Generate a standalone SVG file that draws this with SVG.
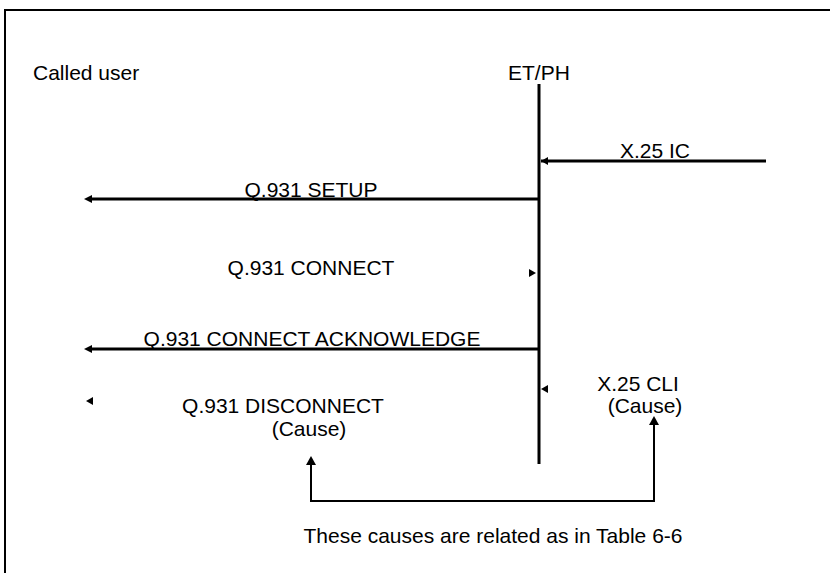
<svg xmlns="http://www.w3.org/2000/svg" width="830" height="573" viewBox="0 0 830 573">
<defs>
<style>
text{font-family:"Liberation Sans",Arial,sans-serif;font-size:21px;fill:#000}
.m{text-anchor:middle}
.ln{stroke:#000;stroke-width:3;fill:none}
.th{stroke:#000;stroke-width:2;fill:none}
</style>
</defs>
<rect x="0" y="0" width="830" height="573" fill="#fff"/>
<path d="M5,580 L5,10 L840,10" class="th"/>
<g id="called-user"><text x="33" y="80">Called user</text></g>
<g id="etph"><text x="508" y="80">ET/PH</text>
<line x1="539" y1="84" x2="539" y2="464" class="ln"/></g>
<g id="connectors">
<line x1="766" y1="161" x2="541" y2="161" class="ln"/>
<path d="M541,161 L548,157 L548,165 Z"/>
<line x1="539" y1="199" x2="88" y2="199" class="ln"/>
<path d="M84,199 L92,195 L92,203 Z"/>
<path d="M536,273 L529,269 L529,277 Z"/>
<line x1="539" y1="349" x2="88" y2="349" class="ln"/>
<path d="M84,349 L92,345 L92,353 Z"/>
<path d="M541,389 L548,385 L548,393 Z"/>
<path d="M86,401 L93,397 L93,405 Z"/>
<path d="M311,460 L311,501 L654,501 L654,420" class="th"/>
<path d="M311,456 L306,465 L316,465 Z"/>
<path d="M654,416 L649,425 L659,425 Z"/>
</g>
<g id="labels">
<text class="m" x="655" y="158">X.25 IC</text>
<text class="m" x="311" y="197">Q.931 SETUP</text>
<text class="m" x="311" y="275">Q.931 CONNECT</text>
<text class="m" x="312" y="346">Q.931 CONNECT ACKNOWLEDGE</text>
<text class="m" x="638" y="391">X.25 CLI</text>
<text class="m" x="645" y="413">(Cause)</text>
<text class="m" x="283" y="413">Q.931 DISCONNECT</text>
<text class="m" x="309" y="436">(Cause)</text>
<text class="m" x="493" y="543">These causes are related as in Table 6-6</text>
</g>
</svg>
